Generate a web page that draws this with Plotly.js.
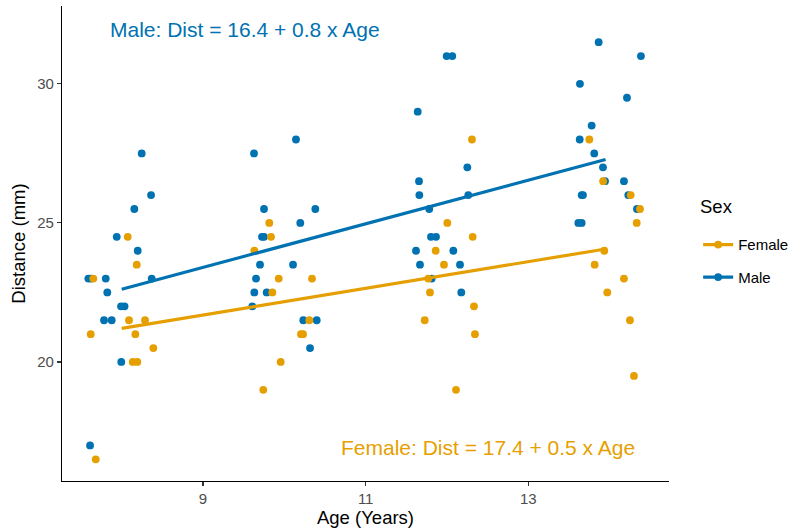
<!DOCTYPE html>
<html>
<head>
<meta charset="utf-8">
<script src="https://cdn.plot.ly/plotly-3.0.1.min.js"></script>
<style>html,body{margin:0;padding:0;background:#fff}#chart{width:800px;height:532px}</style>
</head>
<body>
<div id="chart"></div>
<script>
// Orthodont data: nominal age, jittered x position as plotted, distance (mm)
const maleAge = [8,8,8,8,8,8,8,8,8,8,8,8,8,8,8,8,
  10,10,10,10,10,10,10,10,10,10,10,10,10,10,10,10,
  12,12,12,12,12,12,12,12,12,12,12,12,12,12,12,12,
  14,14,14,14,14,14,14,14,14,14,14,14,14,14,14,14];
const maleX = [8.246,8.361,8.155,7.939,8.197,7.590,7.623,7.804,8.369,7.823,7.992,8.035,7.783,7.877,7.995,7.611,
  10.143,9.627,9.750,10.381,10.196,9.725,9.750,9.701,10.107,9.652,9.631,9.783,9.606,10.233,10.398,10.316,
  11.996,12.065,11.640,12.250,11.656,11.660,12.262,11.782,11.803,11.865,11.619,12.078,11.668,12.160,11.812,12.176,
  13.865,14.385,13.635,14.213,13.779,13.632,13.811,13.918,13.943,14.176,13.656,14.229,13.672,14.336,13.615,13.656];
const maleDist = [27.5,26,25.5,24.5,24,23,23,23,23,22.5,22,22,21.5,21.5,20,17,
  28,27.5,25.5,25.5,25,24.5,24.5,23.5,23.5,23,22.5,22.5,22,21.5,21.5,20.5,
  31,31,29,27,26.5,26,26,25.5,24.5,24.5,24,24,23.5,23.5,23,22.5,
  31.5,31,30,29.5,28.5,28,27.5,27,26.5,26.5,26,26,26,25.5,25,25];

const femaleAge = [8,8,8,8,8,8,8,8,8,8,8,
  10,10,10,10,10,10,10,10,10,10,10,
  12,12,12,12,12,12,12,12,12,12,12,
  14,14,14,14,14,14,14,14,14,14,14];
const femaleX = [8.074,8.185,7.651,8.090,8.287,7.619,8.168,8.389,8.136,8.192,7.681,
  9.815,9.836,9.631,9.931,10.340,9.852,10.307,10.205,10.230,9.955,9.741,
  12.307,12.004,12.316,11.861,11.963,11.770,11.791,12.332,11.726,12.344,12.111,
  13.750,13.920,14.259,14.373,14.333,13.934,13.816,14.176,13.971,14.250,14.299];
const femaleDist = [24.5,23.5,23,21.5,21.5,21,21,20.5,20,20,16.5,
  25,24.5,24,23,23,22.5,21.5,21,21,20,19,
  28,25,24.5,24,23.5,23,22.5,22,21.5,21,19,
  28,26.5,26,25.5,25,24,23.5,23,22.5,21.5,19.5];

const sexLabels = ['Female', 'Male'];
const fitRange = [8, 13.95];
const maleColor = '#0072B2', femaleColor = '#E69F00';

function ols(x, y) {
  const n = x.length;
  const mx = x.reduce((a,b)=>a+b,0)/n, my = y.reduce((a,b)=>a+b,0)/n;
  let sxy = 0, sxx = 0;
  for (let i=0;i<n;i++){ sxy += (x[i]-mx)*(y[i]-my); sxx += (x[i]-mx)*(x[i]-mx); }
  const b = sxy/sxx; return [my - b*mx, b];
}
const mFit = ols(maleAge, maleDist), fFit = ols(femaleAge, femaleDist);

const font = 'Liberation Sans, Arial, Helvetica, sans-serif';
const traces = [
  {x: maleX, y: maleDist, type:'scatter', mode:'markers', marker:{color:maleColor, size:7.8}, showlegend:false, hoverinfo:'skip'},
  {x: femaleX, y: femaleDist, type:'scatter', mode:'markers', marker:{color:femaleColor, size:7.8}, showlegend:false, hoverinfo:'skip'},
  {x: fitRange, y: fitRange.map(v=>fFit[0]+fFit[1]*v), type:'scatter', mode:'lines', line:{color:femaleColor, width:3.2}, showlegend:false},
  {x: fitRange, y: fitRange.map(v=>mFit[0]+mFit[1]*v), type:'scatter', mode:'lines', line:{color:maleColor, width:3.2}, showlegend:false},
  {x:[null], y:[null], type:'scatter', mode:'lines+markers', name:sexLabels[0], legendgroup:'f', line:{color:femaleColor, width:3.2}, marker:{color:femaleColor, size:7.8}},
  {x:[null], y:[null], type:'scatter', mode:'lines+markers', name:sexLabels[1], legendgroup:'m', line:{color:maleColor, width:3.2}, marker:{color:maleColor, size:7.8}}
];

const layout = {
  width: 800, height: 532,
  margin: {l:62, r:131, t:6, b:51},
  paper_bgcolor:'#fff', plot_bgcolor:'#fff',
  font: {family: font, color:'#000'},
  showlegend: true,
  xaxis: {
    range:[7.266, 14.73], tickvals:[9,11,13], ticktext:['9','11','13'],
    showgrid:false, zeroline:false, showline:true, linecolor:'#000', linewidth:1.1,
    ticks:'outside', ticklen:4, tickcolor:'#333', tickwidth:1.1,
    tickfont:{size:15, color:'#4d4d4d', family:font},
    title:{text:'Age (Years)', font:{size:18.5, color:'#000', family:font}, standoff:5}
  },
  yaxis: {
    range:[15.72, 32.8], tickvals:[20,25,30], ticktext:['20','25','30'],
    showgrid:false, zeroline:false, showline:true, linecolor:'#000', linewidth:1.1,
    ticks:'outside', ticklen:4, tickcolor:'#333', tickwidth:1.1,
    tickfont:{size:15, color:'#4d4d4d', family:font},
    title:{text:'Distance (mm)', font:{size:18.5, color:'#000', family:font}, standoff:6}
  },
  legend: {
    x:1.048, xanchor:'left', y:0.532, yanchor:'top',
    traceorder:'grouped', tracegroupgap:10,
    font:{size:15, family:font, color:'#000'},
    bgcolor:'rgba(0,0,0,0)'
  },
  annotations: [
    {x:9.52, y:31.94, xref:'x', yref:'y', text:'Male: Dist = 16.4 + 0.8 x Age', showarrow:false,
     font:{size:21, color:maleColor, family:font}},
    {x:12.50, y:16.94, xref:'x', yref:'y', text:'Female: Dist = 17.4 + 0.5 x Age', showarrow:false,
     font:{size:21, color:femaleColor, family:font}},
    {x:1.0478, y:0.577, xref:'paper', yref:'paper', xanchor:'left', yanchor:'middle', text:'Sex', showarrow:false,
     font:{size:18.5, color:'#000', family:font}}
  ]
};

Plotly.newPlot('chart', traces, layout, {staticPlot:true, displayModeBar:false});
</script>
</body>
</html>
